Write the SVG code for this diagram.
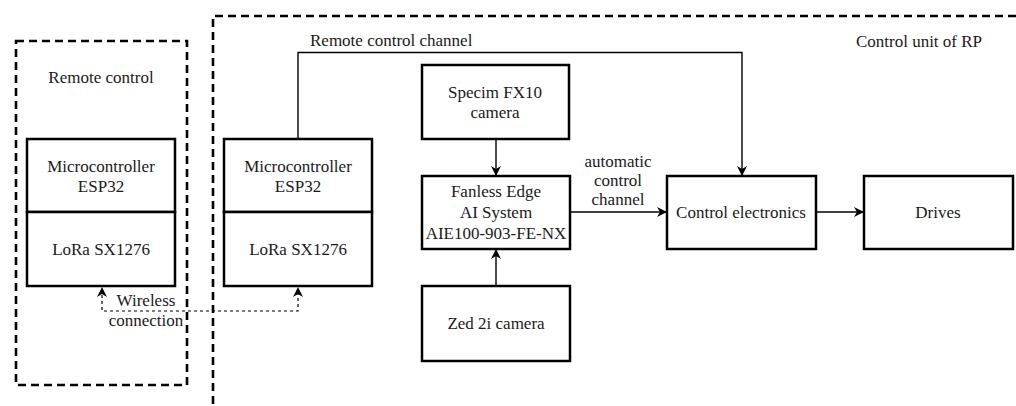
<svg xmlns="http://www.w3.org/2000/svg" width="1016" height="406" viewBox="0 0 1016 406">
<defs>
<style>
.box{fill:#fff;stroke:#000;stroke-width:2.5}
.grp{fill:none;stroke:#000;stroke-width:2.6;stroke-dasharray:8 5}
.t{font-family:'Times New Roman','Liberation Serif','DejaVu Serif',serif;font-size:17px;fill:#1a1a1a;text-anchor:middle}
.tl{font-family:'Times New Roman','Liberation Serif','DejaVu Serif',serif;font-size:17px;fill:#1a1a1a}
.c{fill:none;stroke:#000;stroke-width:1.4}
.d{fill:none;stroke:#000;stroke-width:1.2;stroke-dasharray:3 3}
</style>
<marker id="ah" viewBox="0 0 10 10" refX="9" refY="5" markerWidth="10" markerHeight="10" markerUnits="userSpaceOnUse" orient="auto">
<path d="M0,0 L10,5 L0,10 L3,5 Z" fill="#000"/>
</marker>
</defs>
<rect width="1016" height="406" fill="#fff"/>
<g id="remote-control-group">
<rect class="grp" x="16" y="41" width="171" height="344"/>
<text class="t" x="101" y="83">Remote control</text>
</g>
<g id="control-unit-group">
<path class="grp" d="M1016,16 H213 V406"/>
<text class="t" x="919" y="47">Control unit of RP</text>
</g>
<g id="connectors">
<path class="c" d="M298,139 V52.5 H742 V175" marker-end="url(#ah)"/>
<path class="c" d="M496,139 V175" marker-end="url(#ah)"/>
<path class="c" d="M496,286 V250" marker-end="url(#ah)"/>
<path class="c" d="M570,212 H666" marker-end="url(#ah)"/>
<path class="c" d="M816,212 H863" marker-end="url(#ah)"/>
<path class="d" d="M102,289 V311 H298 V289"/>
<path d="M97,297 L102,287 L107,297 L102,294 Z" fill="#000"/>
<path d="M293,297 L298,287 L303,297 L298,294 Z" fill="#000"/>
<text class="tl" x="310" y="46">Remote control channel</text>
<text class="t" x="618" y="167">automatic</text>
<text class="t" x="618" y="186">control</text>
<text class="t" x="618" y="205">channel</text>
<text class="t" x="146" y="306">Wireless</text>
<text class="t" x="146" y="326">connection</text>
</g>
<g id="remote-mcu">
<rect class="box" x="27" y="139" width="148" height="73"/>
<rect class="box" x="27" y="212" width="148" height="74"/>
<text class="t" x="101" y="172">Microcontroller</text>
<text class="t" x="101" y="192">ESP32</text>
<text class="t" x="101" y="255">LoRa SX1276</text>
</g>
<g id="rp-mcu">
<rect class="box" x="224" y="139" width="148" height="73"/>
<rect class="box" x="224" y="212" width="148" height="74"/>
<text class="t" x="298" y="172">Microcontroller</text>
<text class="t" x="298" y="192">ESP32</text>
<text class="t" x="298" y="255">LoRa SX1276</text>
</g>
<g id="specim">
<rect class="box" x="422" y="65" width="147" height="74"/>
<text class="t" x="495" y="98">Specim FX10</text>
<text class="t" x="495" y="118">camera</text>
</g>
<g id="fanless">
<rect class="box" x="422" y="176" width="148" height="73"/>
<text class="t" x="496" y="197">Fanless Edge</text>
<text class="t" x="496" y="218">AI System</text>
<text class="t" x="496" y="239">AIE100-903-FE-NX</text>
</g>
<g id="zed">
<rect class="box" x="422" y="286" width="148" height="75"/>
<text class="t" x="496" y="329">Zed 2i camera</text>
</g>
<g id="control-electronics">
<rect class="box" x="667" y="176" width="149" height="73"/>
<text class="t" x="741" y="218">Control electronics</text>
</g>
<g id="drives">
<rect class="box" x="864" y="176" width="149" height="73"/>
<text class="t" x="938" y="218">Drives</text>
</g>
</svg>
